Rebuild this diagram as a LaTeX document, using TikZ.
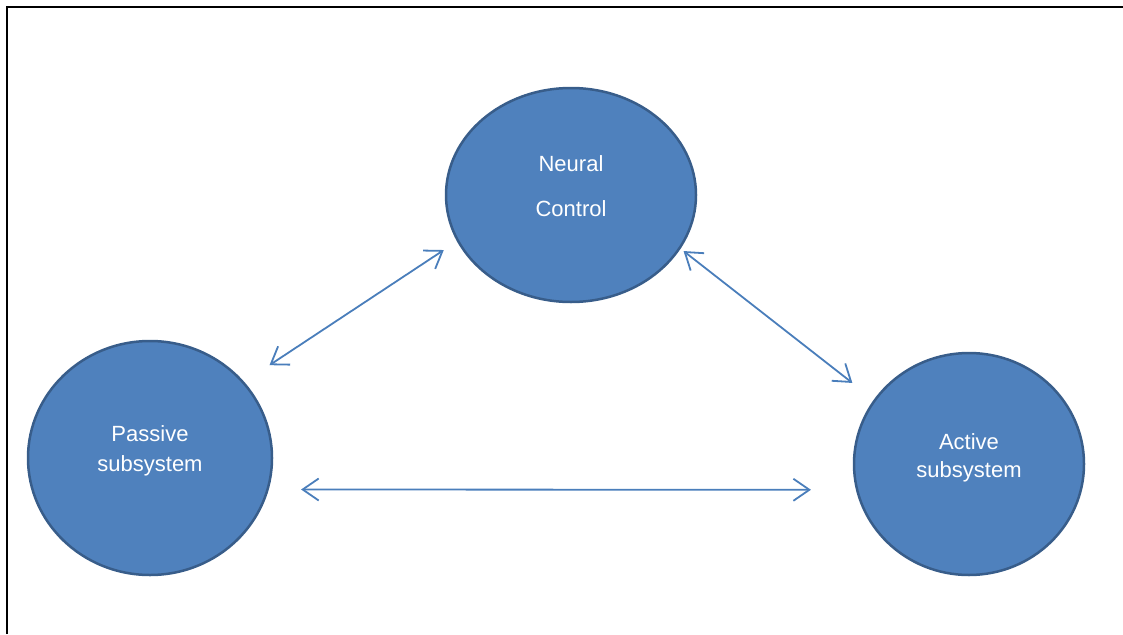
\documentclass[tikz,border=0pt]{standalone}
\usepackage{fontspec}
\setmainfont{Liberation Sans}
\usetikzlibrary{shapes.geometric, arrows.meta}

\definecolor{sysblue}{HTML}{4F81BD}
\definecolor{sysedge}{HTML}{385D8A}
\definecolor{linkblue}{HTML}{4A7EBB}

\begin{document}
\begin{tikzpicture}[x=1pt,y=-1pt,
	sys/.style={ellipse,fill=sysblue,draw=sysedge,line width=2.5pt,inner sep=0pt,outer sep=0pt},
	txt/.style={text=white,align=center,font=\fontsize{22}{25}\selectfont},
	link/.style={{Straight Barb[length=16pt,width=22pt]}-{Straight Barb[length=16pt,width=22pt]},draw=linkblue,line width=1.8pt}]
	\useasboundingbox (0,0) rectangle (1123,634);
	\draw[line width=2pt] (6.5,634) -- (6.5,7) -- (1123,7);
	% the three subsystems
	\node[sys,minimum width=250pt,minimum height=214pt,
		label={[txt,yshift=9pt]center:{Neural\\[20pt]Control}}] (nc) at (571,195) {};
	\node[sys,minimum width=244pt,minimum height=234pt,
		label={[txt,yshift=7pt]center:{Passive\\[5pt]subsystem}}] (ps) at (150,458) {};
	\node[sys,minimum width=230pt,minimum height=222pt,
		label={[txt,yshift=6pt]center:{Active\\[3pt]subsystem}}] (as) at (969,464) {};
	% links
	\draw[link,shorten <=31.5pt,shorten >=17pt] (ps.39.4) -- (nc.202.3);
	\draw[link,shorten <=5pt,shorten >=28.4pt] (nc.334.3) -- (as.146.5);
	\draw[link,shorten <=33.6pt,shorten >=46.2pt] (ps.345.3) -- (as.193);
\end{tikzpicture}
\end{document}
